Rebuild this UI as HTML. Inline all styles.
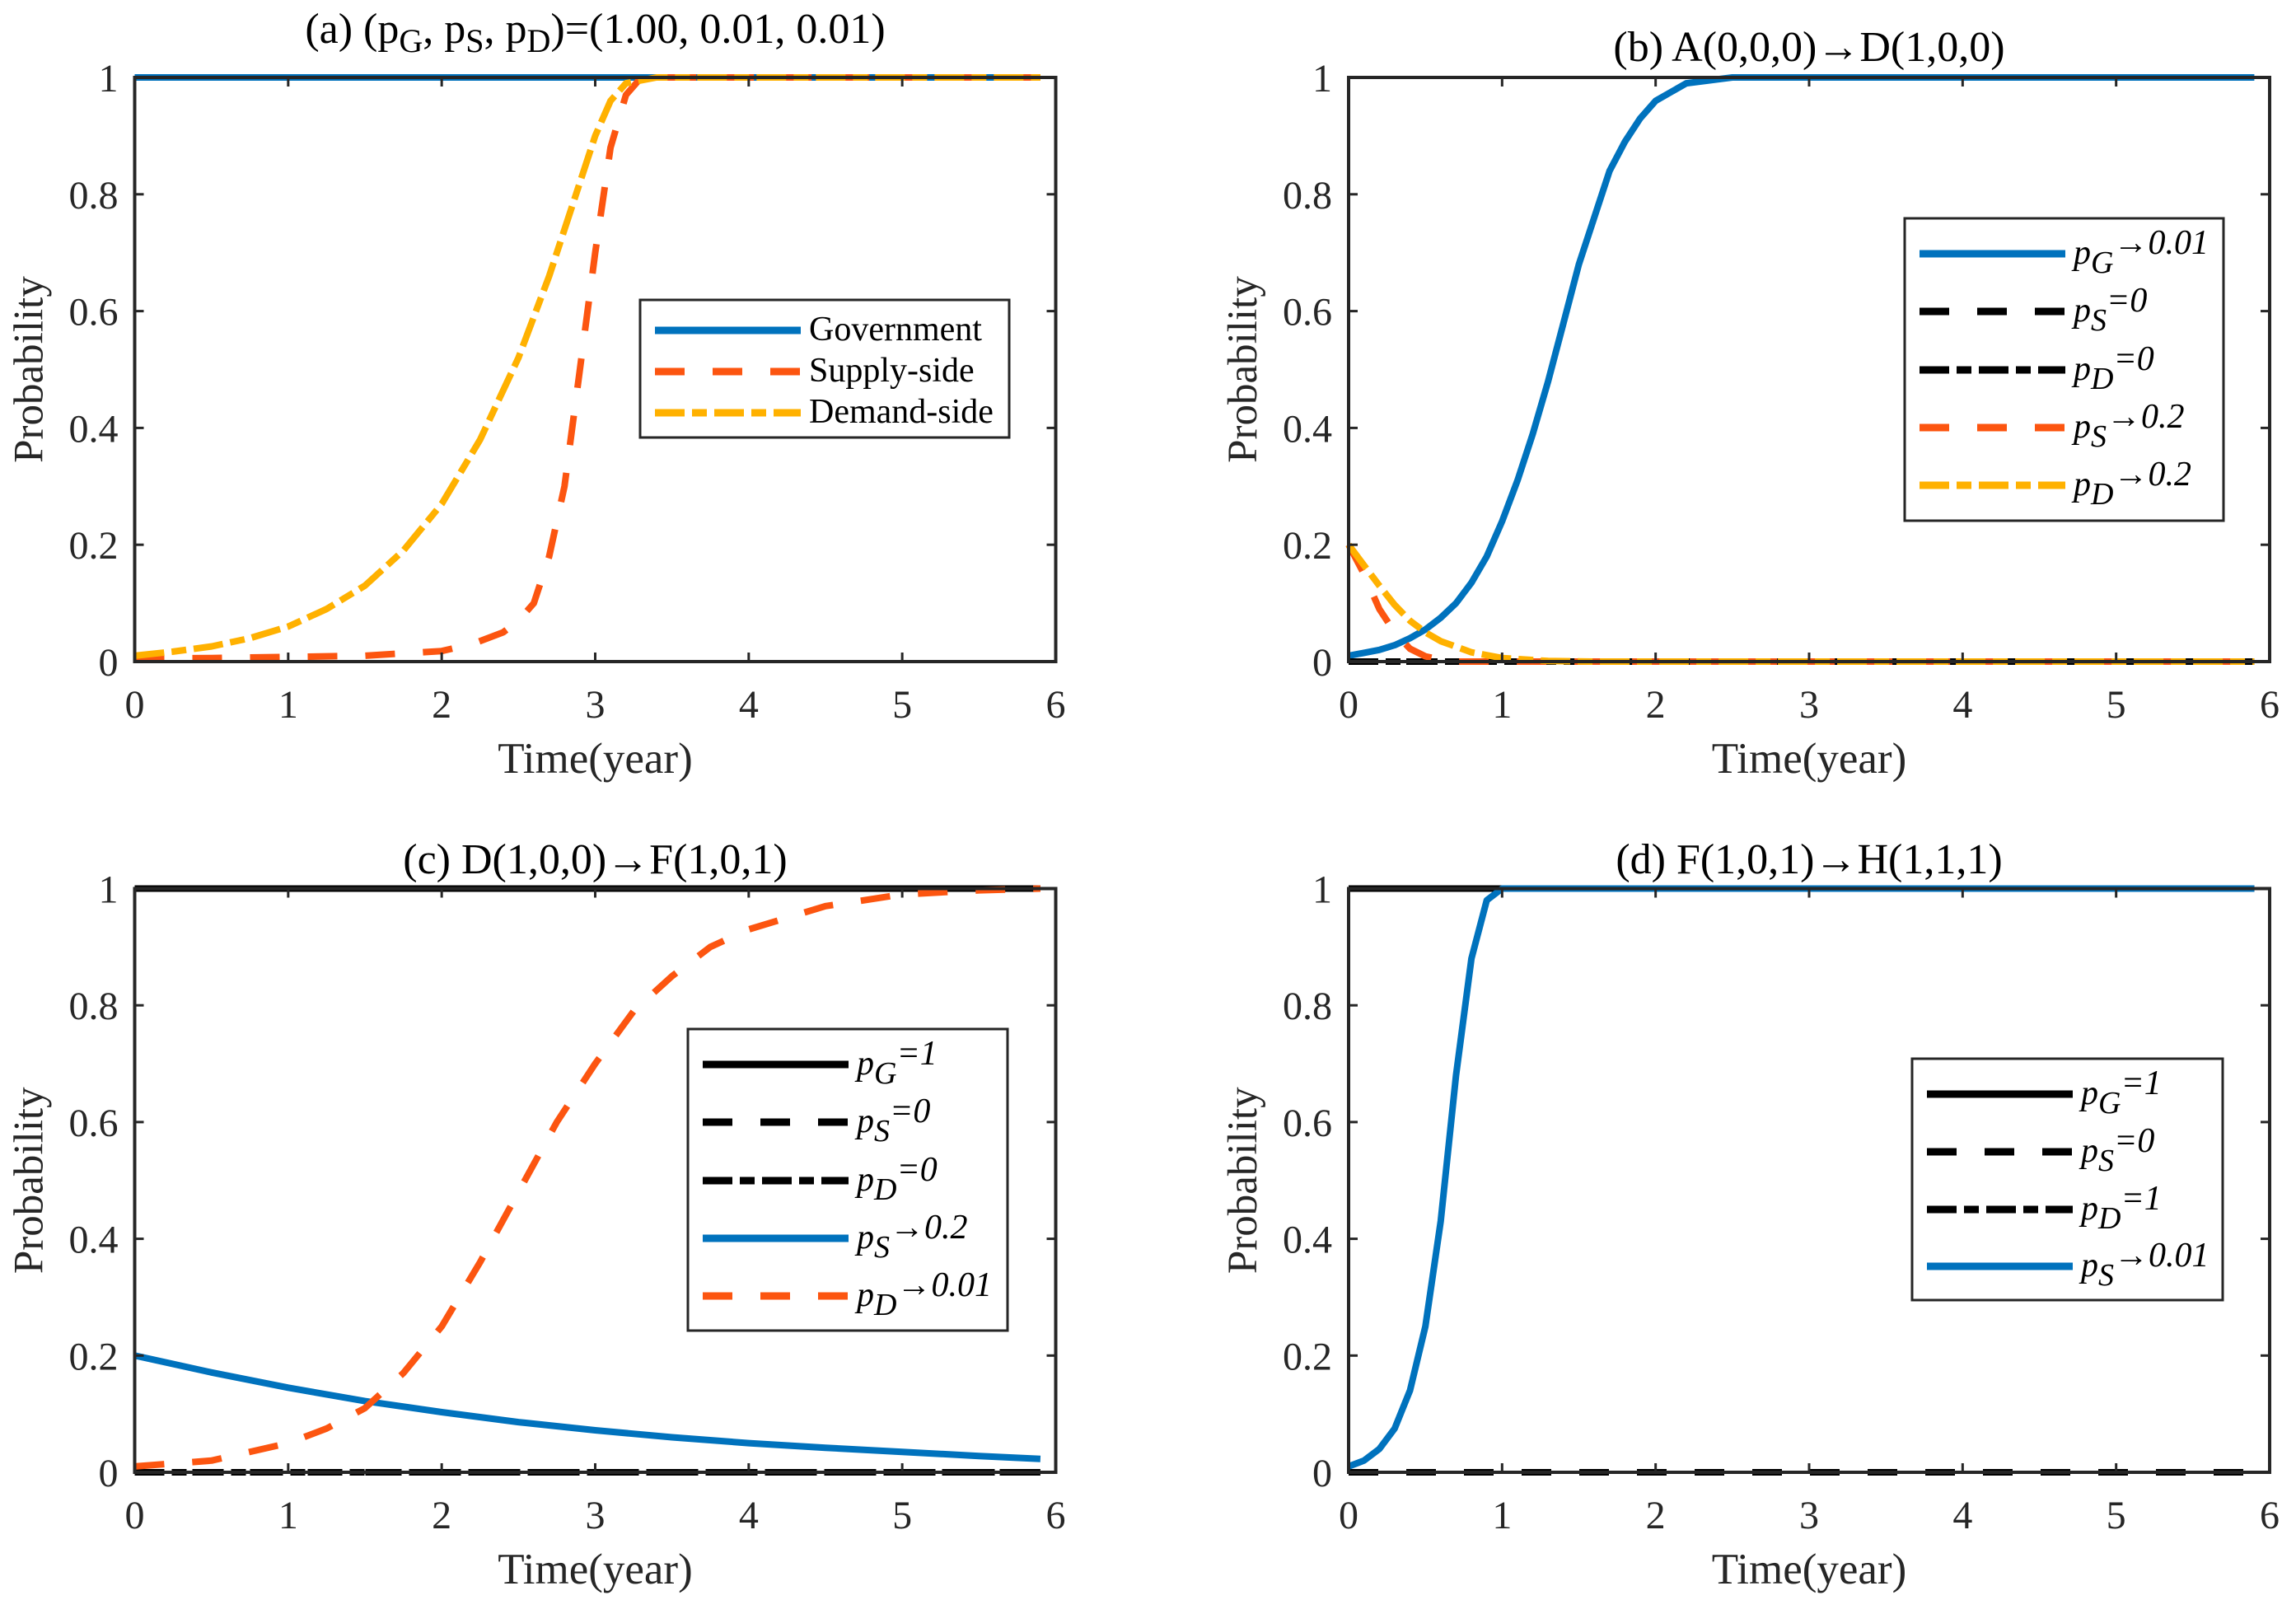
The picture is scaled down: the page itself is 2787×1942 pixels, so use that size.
<!DOCTYPE html>
<html><head><meta charset="utf-8">
<style>
html,body{margin:0;padding:0;background:#fff;}
svg{display:block;font-family:"Liberation Serif",serif;}
</style></head>
<body>
<svg id="fig" width="2787" height="1942" viewBox="0 0 2787 1942" xmlns="http://www.w3.org/2000/svg"></svg>
<script>
// ---------- data ----------
// Panel (a)
const aGovT = [0, 5.9];
const aGovP = [1, 1];
const aSupT = [0,0.5,1,1.5,2,2.2,2.4,2.5,2.6,2.7,2.8,2.9,3.0,3.1,3.2,3.3,3.5,5.9];
const aSupP = [0.005,0.006,0.008,0.01,0.018,0.03,0.05,0.07,0.1,0.18,0.3,0.5,0.7,0.88,0.97,1.0,1,1];
const aDemT = [0,0.25,0.5,0.75,1,1.25,1.5,1.75,2,2.25,2.5,2.7,2.9,3.0,3.1,3.2,3.4,5.9];
const aDemP = [0.01,0.017,0.026,0.04,0.06,0.09,0.13,0.19,0.27,0.38,0.52,0.66,0.82,0.9,0.96,0.99,1,1];
// Panel (b)
const bGT = [0,0.1,0.2,0.3,0.4,0.5,0.6,0.7,0.8,0.9,1,1.1,1.2,1.3,1.4,1.5,1.6,1.7,1.8,1.9,2,2.2,2.5,3,5.9];
const bGP = [0.01,0.015,0.02,0.028,0.04,0.055,0.075,0.1,0.135,0.18,0.24,0.31,0.39,0.48,0.58,0.68,0.76,0.84,0.89,0.93,0.96,0.99,1,1,1];
const bS0T = [0,5.9]; const bS0P = [0,0];
const bD0T = [0,5.9]; const bD0P = [0,0];
const bST = [0,0.1,0.2,0.3,0.4,0.5,0.6,0.7,1,5.9];
const bSP = [0.2,0.15,0.09,0.05,0.022,0.009,0.003,0,0,0];
const bDT = [0,0.1,0.2,0.3,0.4,0.5,0.6,0.8,1,1.3,1.6,5.9];
const bDP = [0.2,0.165,0.13,0.097,0.07,0.05,0.035,0.016,0.006,0.001,0,0];
// Panel (c)
const cGT = [0,5.9]; const cGP = [1,1];
const cS0T = [0,5.9]; const cS0P = [0,0];
const cD0T = [0,5.9]; const cD0P = [0,0];
const cST = [0,0.5,1,1.5,2,2.5,3,3.5,4,4.5,5,5.5,5.9];
const cSP = [0.2,0.171,0.145,0.122,0.103,0.086,0.072,0.06,0.05,0.042,0.035,0.028,0.023];
const cDT = [0,0.5,1,1.25,1.5,1.75,2,2.25,2.5,2.75,3,3.25,3.5,3.75,4,4.5,5,5.5,5.9];
const cDP = [0.01,0.02,0.05,0.075,0.11,0.17,0.25,0.36,0.48,0.6,0.7,0.79,0.85,0.9,0.93,0.97,0.99,0.997,1];
// Panel (d)
const dGT = [0,5.9]; const dGP = [1,1];
const dS0T = [0,5.9]; const dS0P = [0,0];
const dD1T = [0,5.9]; const dD1P = [1,1];
const dST = [0,0.1,0.2,0.3,0.4,0.5,0.6,0.7,0.8,0.9,1,1.1,5.9];
const dSP = [0.01,0.02,0.04,0.075,0.14,0.25,0.43,0.68,0.88,0.98,1,1,1];
// ticks
const xTicks = [0,1,2,3,4,5,6];
const yTicks = [0,0.2,0.4,0.6,0.8,1];
const yTickLabels = ["0","0.2","0.4","0.6","0.8","1"];

// ---------- drawing ----------
const NS = "http://www.w3.org/2000/svg";
const svg = document.getElementById('fig');
const BLUE="#0072BD", ORG="#FC5510", YEL="#FFB100", BLK="#000";
const DASH="36,34", DASHDOT="36,9,18,9";
function mk(tag, attrs, parent){const e=document.createElementNS(NS,tag);for(const k in attrs)e.setAttribute(k,attrs[k]);(parent||svg).appendChild(e);return e;}

const panels = [
 {id:'a', x0:163.5, x1:1281.5, y0:803, y1:94},
 {id:'b', x0:1637, x1:2755, y0:803, y1:94},
 {id:'c', x0:163.5, x1:1281.5, y0:1787, y1:1078.5},
 {id:'d', x0:1637, x1:2755, y0:1787, y1:1078.5}
];

function axes(p){
  const g = mk('g',{});
  
  
  const sx = v => p.x0 + (p.x1-p.x0)*v/6;
  const sy = v => p.y0 - (p.y0-p.y1)*v;
  p.sx=sx; p.sy=sy; p.g=g;
  const clip = mk('clipPath',{id:'clip'+p.id},g);
  mk('rect',{x:p.x0-6,y:p.y1-6,width:p.x1-p.x0+12,height:p.y0-p.y1+12},clip);
  p.plot = mk('g',{'clip-path':'url(#clip'+p.id+')'},g);
  
  
  xTicks.forEach(t=>{
    const x=sx(t);
    mk('line',{x1:x,y1:p.y0,x2:x,y2:p.y0-11,stroke:'#262626','stroke-width':3},g);
    mk('line',{x1:x,y1:p.y1,x2:x,y2:p.y1+11,stroke:'#262626','stroke-width':3},g);
    const tl = mk('text',{x:x,y:p.y0+68,'text-anchor':'middle','font-size':48,fill:'#262626'},g);
    
    
    tl.textContent=String(t);
  });
  yTicks.forEach((t,i)=>{
    const y=sy(t);
    mk('line',{x1:p.x0,y1:y,x2:p.x0+11,y2:y,stroke:'#262626','stroke-width':3},g);
    mk('line',{x1:p.x1,y1:y,x2:p.x1-11,y2:y,stroke:'#262626','stroke-width':3},g);
    const tl = mk('text',{x:p.x0-20,y:y+17,'text-anchor':'end','font-size':48,fill:'#262626'},g);
    
    
    tl.textContent=yTickLabels[i];
  });
  const xl = mk('text',{x:(p.x0+p.x1)/2,y:p.y0+135,'text-anchor':'middle','font-size':53,fill:'#262626'},g);
  
  
  xl.textContent='Time(year)';
  const yx = p.x0-112, yy=(p.y0+p.y1)/2;
  const yl = mk('text',{x:yx,y:yy,'text-anchor':'middle','font-size':51,fill:'#262626',transform:'rotate(-90 '+yx+' '+yy+')'},g);
  
  
  yl.textContent='Probability';
}
function frame(p){
  const r = mk('rect',{x:p.x0,y:p.y1,width:p.x1-p.x0,height:p.y0-p.y1,fill:'none',stroke:'#262626','stroke-width':4},p.g);
  
  
}
function series(p, T, P, color, dash, name){
  let d='';
  for(let i=0;i<T.length;i++) d += (i?'L':'M')+p.sx(T[i]).toFixed(1)+','+p.sy(P[i]).toFixed(1);
  const el = mk('path',{d:d,fill:'none',stroke:color,'stroke-width':8,'stroke-linejoin':'round'},p.plot);
  if(dash) el.setAttribute('stroke-dasharray',dash);
  
  
}
function title(p, parts, cy){
  const t = mk('text',{x:(p.x0+p.x1)/2,y:cy,'text-anchor':'middle','font-size':52,fill:'#000'},p.g);
  
  
  parts.forEach(pt=>{
    const s = mk('tspan',{},t);
    if(pt[1]==='sub'){s.setAttribute('baseline-shift','-28%');s.setAttribute('font-size',40);}
    s.textContent=pt[0];
  });
}
function legend(p, bx, by, bw, bh, entries, italic){
  const lg = mk('g',{},p.g);
  
  
  mk('rect',{x:bx,y:by,width:bw,height:bh,fill:'#fff',stroke:'#262626','stroke-width':3},lg);
  entries.forEach((e,i)=>{
    const cy = by + e.row;
    const row = mk('g',{},lg);
    
    
    const ln = mk('line',{x1:bx+18,y1:cy,x2:bx+195,y2:cy,stroke:e.c,'stroke-width':9},row);
    if(e.d) ln.setAttribute('stroke-dasharray',e.d);
    const t = mk('text',{x:bx+205,y:cy+12,'font-size':42,fill:'#000'},row);
    if(italic) t.setAttribute('font-style','italic');
    e.t.forEach(pt=>{
      const s = mk('tspan',{},t);
      if(pt[1]==='sub'){s.setAttribute('baseline-shift','-30%');s.setAttribute('font-size',38);}
      else if(pt[1]==='up'){s.setAttribute('dy', pt[2]||0);}
      s.textContent=pt[0];
    });
  });
}

panels.forEach(axes);
const [A,B,C,D] = panels;

series(A,aGovT,aGovP,BLUE,null,'government-line');
series(A,aSupT,aSupP,ORG,DASH,'supply-side-line');
series(A,aDemT,aDemP,YEL,DASHDOT,'demand-side-line');
series(B,bGT,bGP,BLUE,null,'pG-to-0.01-line');
series(B,bS0T,bS0P,BLK,DASH,'pS-0-line');
series(B,bD0T,bD0P,BLK,DASHDOT,'pD-0-line');
series(B,bST,bSP,ORG,DASH,'pS-to-0.2-line');
series(B,bDT,bDP,YEL,DASHDOT,'pD-to-0.2-line');
series(C,cGT,cGP,BLK,null,'pG-1-line');
series(C,cS0T,cS0P,BLK,DASH,'pS-0-line');
series(C,cD0T,cD0P,BLK,DASHDOT,'pD-0-line');
series(C,cST,cSP,BLUE,null,'pS-to-0.2-line');
series(C,cDT,cDP,ORG,DASH,'pD-to-0.01-line');
series(D,dGT,dGP,BLK,null,'pG-1-line');
series(D,dS0T,dS0P,BLK,DASH,'pS-0-line');
series(D,dD1T,dD1P,BLK,DASHDOT,'pD-1-line');
series(D,dST,dSP,BLUE,null,'pS-to-0.01-line');

panels.forEach(frame);

title(A,[['(a) (p'],['G','sub'],[', p'],['S','sub'],[', p'],['D','sub'],[')=(1.00, 0.01, 0.01)']],52);
title(B,[['(b) A(0,0,0)\u2192D(1,0,0)']],74);
title(C,[['(c) D(1,0,0)\u2192F(1,0,1)']],1060);
title(D,[['(d) F(1,0,1)\u2192H(1,1,1)']],1060);

legend(A,777,364,448,167,[
  {c:BLUE,d:null,row:37,t:[['Government']]},
  {c:ORG,d:DASH,row:87,t:[['Supply-side']]},
  {c:YEL,d:DASHDOT,row:137,t:[['Demand-side']]}
],false);
legend(B,2312,265,387,367,[
  {c:BLUE,d:null,row:43,t:[['p'],['G','sub'],['\u21920.01','up',-12]]},
  {c:BLK,d:DASH,row:113,t:[['p'],['S','sub'],['=0','up',-12]]},
  {c:BLK,d:DASHDOT,row:184,t:[['p'],['D','sub'],['=0','up',-12]]},
  {c:ORG,d:DASH,row:254,t:[['p'],['S','sub'],['\u21920.2','up',-12]]},
  {c:YEL,d:DASHDOT,row:324,t:[['p'],['D','sub'],['\u21920.2','up',-12]]}
],true);
legend(C,835,1249,388,366,[
  {c:BLK,d:null,row:43,t:[['p'],['G','sub'],['=1','up',-12]]},
  {c:BLK,d:DASH,row:113,t:[['p'],['S','sub'],['=0','up',-12]]},
  {c:BLK,d:DASHDOT,row:184,t:[['p'],['D','sub'],['=0','up',-12]]},
  {c:BLUE,d:null,row:254,t:[['p'],['S','sub'],['\u21920.2','up',-12]]},
  {c:ORG,d:DASH,row:324,t:[['p'],['D','sub'],['\u21920.01','up',-12]]}
],true);
legend(D,2321,1285,377,293,[
  {c:BLK,d:null,row:43,t:[['p'],['G','sub'],['=1','up',-12]]},
  {c:BLK,d:DASH,row:113,t:[['p'],['S','sub'],['=0','up',-12]]},
  {c:BLK,d:DASHDOT,row:183,t:[['p'],['D','sub'],['=1','up',-12]]},
  {c:BLUE,d:null,row:252,t:[['p'],['S','sub'],['\u21920.01','up',-12]]}
],true);
</script>
</body></html>
